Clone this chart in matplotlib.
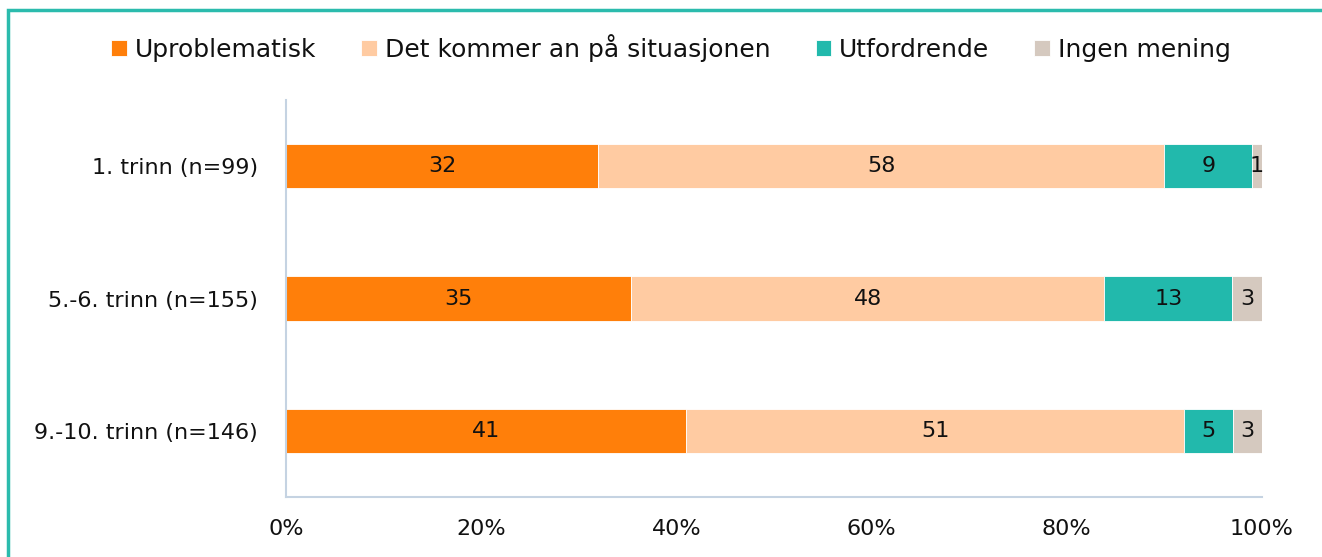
import numpy as np
import matplotlib
matplotlib.use("Agg")
from matplotlib import pyplot as plt
from matplotlib.patches import Rectangle

# Données (pourcentages)
grupper = ['1. trinn (n=99)', '5.-6. trinn (n=155)', '9.-10. trinn (n=146)']
serier = ['Uproblematisk', 'Det kommer an på situasjonen', 'Utfordrende', 'Ingen mening']
uproblematisk = [32, 35, 41]
kommer_an = [58, 48, 51]
utfordrende = [9, 13, 5]
ingen_mening = [1, 3, 3]
farger = ['#FF7F0A', '#FFCBA2', '#22B9AC', '#D5C9BF']

plt.rcParams['font.family'] = ['DejaVu Sans']
TXT = 16

verdier = np.array([uproblematisk, kommer_an, utfordrende, ingen_mening], dtype=float)
andeler = verdier / verdier.sum(axis=0) * 100  # barres empilées à 100 %

fig = plt.figure(figsize=(13.22, 5.57), dpi=100)
ax = fig.add_axes([286 / 1322, 1 - 497 / 557, 976 / 1322, 397 / 557])

y = np.arange(len(grupper))
venstre = np.zeros(len(grupper))
for i, navn in enumerate(serier):
    ax.barh(y, andeler[i], left=venstre, height=0.335, color=farger[i],
            label=navn, edgecolor='white', linewidth=0.6)
    for j in range(len(grupper)):
        ax.text(venstre[j] + andeler[i][j] / 2, y[j], '%d' % verdier[i][j],
                ha='center', va='center', fontsize=TXT, color='#111111')
    venstre += andeler[i]

ax.set_xlim(0, 100)
ax.set_ylim(2.5, -0.5)
ax.set_yticks(y)
ax.set_yticklabels(grupper, fontsize=TXT, color='#111111')
ax.set_xticks([0, 20, 40, 60, 80, 100])
ax.set_xticklabels(['0%', '20%', '40%', '60%', '80%', '100%'], fontsize=TXT,
                   color='#111111')
ax.tick_params(length=0)
ax.tick_params(axis='y', pad=20)
ax.tick_params(axis='x', pad=16)
for side in ['top', 'right']:
    ax.spines[side].set_visible(False)
for side in ['left', 'bottom']:
    ax.spines[side].set_color('#C5D3E2')
    ax.spines[side].set_linewidth(1.5)

fig.legend(loc='center', bbox_to_anchor=(671 / 1322, 1 - 48 / 557), ncol=4,
           frameon=False, fontsize=18, handlelength=0.62, handleheight=0.62,
           handletextpad=0.32, columnspacing=1.8, labelcolor='#111111')

# cadre turquoise autour de la figure
fig.patches.append(Rectangle((8 / 1322, -0.05), 1.2, 1 - 8 / 557 + 0.05 - 1.5 / 557,
                             transform=fig.transFigure, fill=False,
                             edgecolor='#2BBBAD', linewidth=2.5))

plt.savefig('out.png', dpi=100)
